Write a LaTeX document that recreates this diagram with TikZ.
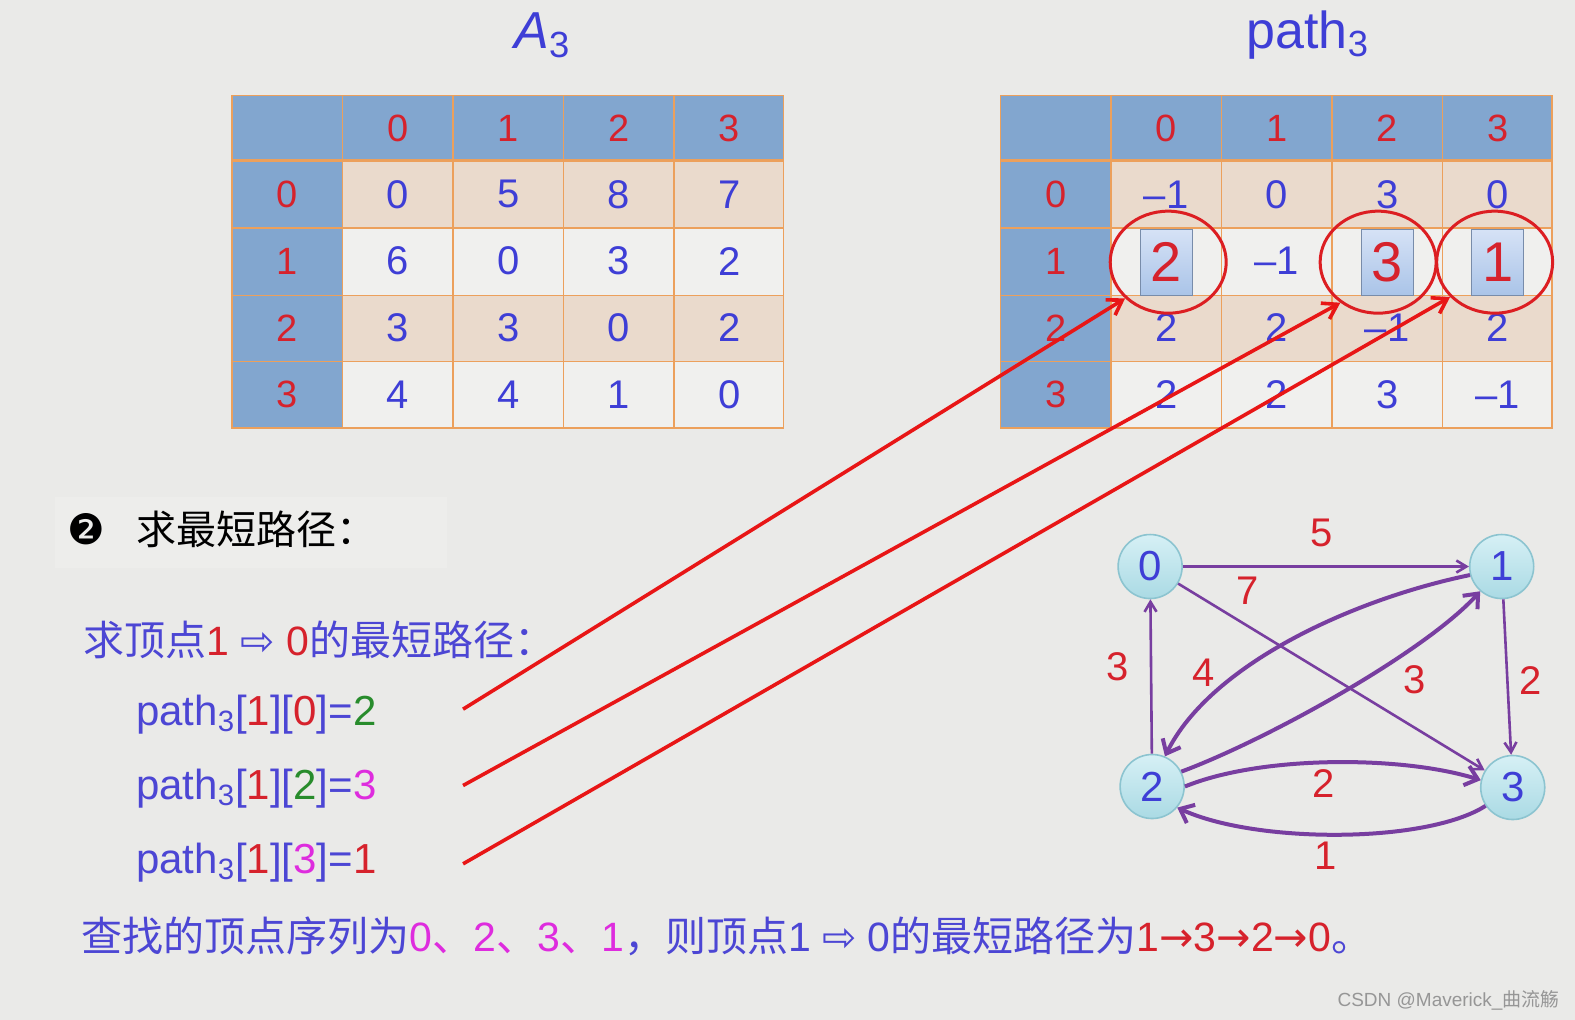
\documentclass[tikz,border=0pt]{standalone}
\usepackage{fontspec}
\setmainfont{Liberation Sans}
\newfontfamily\cjkfont{Noto Sans CJK SC}
\newfontfamily\arrowfont{DejaVu Sans}
\newcommand{\zh}[1]{{\cjkfont #1}}
\usetikzlibrary{arrows.meta,shapes.geometric}
\definecolor{bg}{RGB}{234,234,232}
\definecolor{hdrblue}{RGB}{130,166,207}
\definecolor{rowtan}{RGB}{234,218,204}
\definecolor{rowlight}{RGB}{240,240,238}
\definecolor{gridorange}{RGB}{236,160,92}
\definecolor{idxred}{RGB}{214,34,44}
\definecolor{numblue}{RGB}{62,62,214}
\definecolor{txtblue}{RGB}{76,70,212}
\definecolor{ringred}{RGB}{220,30,34}
\definecolor{linered}{RGB}{232,22,22}
\definecolor{edgepurple}{RGB}{120,62,160}
\definecolor{vtop}{RGB}{214,240,245}
\definecolor{vbot}{RGB}{170,218,228}
\definecolor{vedge}{RGB}{140,196,208}
\definecolor{boxtop}{RGB}{214,226,246}
\definecolor{boxbot}{RGB}{170,196,232}
\definecolor{boxedge}{RGB}{120,140,170}
\definecolor{pgreen}{RGB}{40,140,44}
\definecolor{pmagenta}{RGB}{222,44,222}
\definecolor{markgray}{RGB}{150,150,150}

\begin{document}
\begin{tikzpicture}[x=0.5022pt,y=-0.5022pt,
  every node/.style={inner sep=0pt},
  grid/.style={draw=gridorange,line width=0.8pt},
  idxnum/.style={text=idxred,font=\fontsize{19}{23}\selectfont},
  cellnum/.style={text=numblue,font=\fontsize{20}{24}\selectfont},
  pickbox/.style={draw=boxedge,line width=0.6pt,top color=boxtop,bottom color=boxbot,
    minimum width=26pt,minimum height=33pt,text=idxred,font=\fontsize{28}{30}\selectfont},
  ring/.style={draw=ringred,line width=1.5pt,ellipse,minimum width=58pt,minimum height=51pt},
  redarrow/.style={draw=linered,line width=1.8pt,-{Straight Barb[length=7pt,width=9pt]}},
  vertex/.style={circle,draw=vedge,line width=0.8pt,top color=vtop,bottom color=vbot,
    minimum size=32pt,text=numblue,font=\fontsize{21}{24}\selectfont},
  thinedge/.style={draw=edgepurple,line width=1.3pt,-{Straight Barb[length=5pt,width=6pt]}},
  thickedge/.style={draw=edgepurple,line width=2pt,-{Straight Barb[length=6pt,width=10pt]}},
  wlabel/.style={text=idxred,font=\fontsize{20}{24}\selectfont},
  title/.style={text=numblue,font=\fontsize{26}{30}\selectfont},
  textline/.style={anchor=west,text=txtblue,font=\fontsize{20.5}{24}\selectfont},
  pathline/.style={anchor=west,text=txtblue,font=\fontsize{21}{25}\selectfont}]
\useasboundingbox (0,0) rectangle (1568,1015);
\fill[bg] (0,0) rectangle (1568,1015);

% titles
\node[title] (atitle) at (540,35) {\textit{A}\textsubscript{3}};
\node[title] (ptitle) at (1302,35) {path\textsubscript{3}};

% table frames
\foreach \tx/\tn in {231/a,996/p} {
  \fill[hdrblue] (\tx,95) rectangle ++(549,65);
  \fill[hdrblue] (\tx,160) rectangle ++(110,266);
  \fill[rowtan] (\tx+110,160) rectangle ++(439,67);
  \fill[rowlight] (\tx+110,227) rectangle ++(439,67);
  \fill[rowtan] (\tx+110,294) rectangle ++(439,66);
  \fill[rowlight] (\tx+110,360) rectangle ++(439,66);
  \foreach \gx in {110,220,330,440} \draw[grid] (\tx+\gx,95) -- ++(0,331);
  \foreach \gy in {227,294,360} \draw[grid] (\tx,\gy) -- ++(549,0);
  \draw[grid] (\tx,95) rectangle ++(549,331);
  \draw[grid,line width=1.6pt] (\tx,160) -- ++(549,0);
  \foreach \c in {0,...,3} {
    \node[idxnum] (\tn-h\c) at (\tx+165+110*\c,127.5) {\c};
    \node[idxnum] (\tn-r\c) at (\tx+55,193.5+66.5*\c) {\c};
  }
}

% A3 values
\foreach \r/\vals in {0/{0,5,8,7},1/{6,0,3,2},2/{3,3,0,2},3/{4,4,1,0}}
  \foreach \v [count=\c from 0] in \vals
    \node[cellnum] (a-\r-\c) at (396+110*\c,193.5+66.5*\r) {\v};

% path3 values
\foreach \r/\vals in {0/{–1,0,3,0},2/{2,2,–1,2},3/{2,2,3,–1}}
  \foreach \v [count=\c from 0] in \vals
    \node[cellnum] (p-\r-\c) at (1161+110*\c,193.5+66.5*\r) {\v};
\node[cellnum] (p-1-1) at (1271,260) {–1};
\foreach \c/\v in {0/2,2/3,3/1}
  \node[pickbox] (p-1-\c) at (1161+110*\c,261) {\v};
\node[ring] (ring0) at (1163,261) {};
\node[ring] (ring2) at (1372,261) {};
\node[ring] (ring3) at (1488,261) {};

% left text
\fill[white,opacity=0.15] (55,495) rectangle (445,565);
\node (bullet) at (86,527) {\arrowfont\fontsize{21}{22}\selectfont ❷};
\node[anchor=west,font=\cjkfont\fontsize{20}{24}\selectfont] (head) at (135,527) {求最短路径：};
\node[textline] (ask) at (83,637) {\zh{求顶点}\textcolor{idxred}{1} {\arrowfont ⇨} \textcolor{idxred}{0}\zh{的最短路径：}};
\node[pathline] (q0) at (135,711) {path\textsubscript{3}[\textcolor{idxred}{1}][\textcolor{idxred}{0}]=\textcolor{pgreen}{2}};
\node[pathline] (q2) at (135,785) {path\textsubscript{3}[\textcolor{idxred}{1}][\textcolor{pgreen}{2}]=\textcolor{pmagenta}{3}};
\node[pathline] (q3) at (135,859) {path\textsubscript{3}[\textcolor{idxred}{1}][\textcolor{pmagenta}{3}]=\textcolor{idxred}{1}};
\node[textline] (seq) at (81,932) {\zh{查找的顶点序列为}\textcolor{pmagenta}{0\zh{、}2\zh{、}3\zh{、}1}\zh{，则顶点}1 {\arrowfont ⇨} 0\zh{的最短路径为}\textcolor{idxred}{1{\arrowfont →}3{\arrowfont →}2{\arrowfont →}0}\zh{。}};
\node[anchor=east,text=markgray,font=\fontsize{9.5}{12}\selectfont] (mark) at (1553,996) {CSDN @Maverick\_\zh{曲流觞}};

% graph
\node[vertex] (v0) at (1145,564) {0};
\node[vertex] (v1) at (1495,564) {1};
\node[vertex] (v2) at (1147,783) {2};
\node[vertex] (v3) at (1506,784) {3};
\draw[thinedge] (v0) -- (v1);
\draw[thinedge] (v0) -- (v3);
\draw[thinedge] (v1) -- (v3);
\draw[thinedge] (v2) -- (v0);
\draw[thickedge] (v1.195) .. controls (1345,597) and (1205,662) .. (v2.67);
\draw[thickedge] (v2.27) .. controls (1265,735) and (1420,648) .. (v1.229);
\draw[thickedge] (v2.0) .. controls (1255,752) and (1395,752) .. (v3.167);
\draw[thickedge] (v3.214) .. controls (1420,840) and (1250,840) .. (v2.-40);
\node[wlabel] (w01) at (1316,531) {5};
\node[wlabel] (w03) at (1242,588) {7};
\node[wlabel] (w20) at (1113,664) {3};
\node[wlabel] (w12) at (1198,670) {4};
\node[wlabel] (w21) at (1408,677) {3};
\node[wlabel] (w13) at (1524,677) {2};
\node[wlabel] (w23) at (1318,780) {2};
\node[wlabel] (w32) at (1320,852) {1};

% red pointers
\coordinate (s0) at (461,706);
\coordinate (s2) at (461,782);
\coordinate (s3) at (461,860);
\draw[redarrow] (s0) -- (ring0.220);
\draw[redarrow] (s2) -- (ring2.227);
\draw[redarrow] (s3) -- (ring3.218);
\end{tikzpicture}
\end{document}
